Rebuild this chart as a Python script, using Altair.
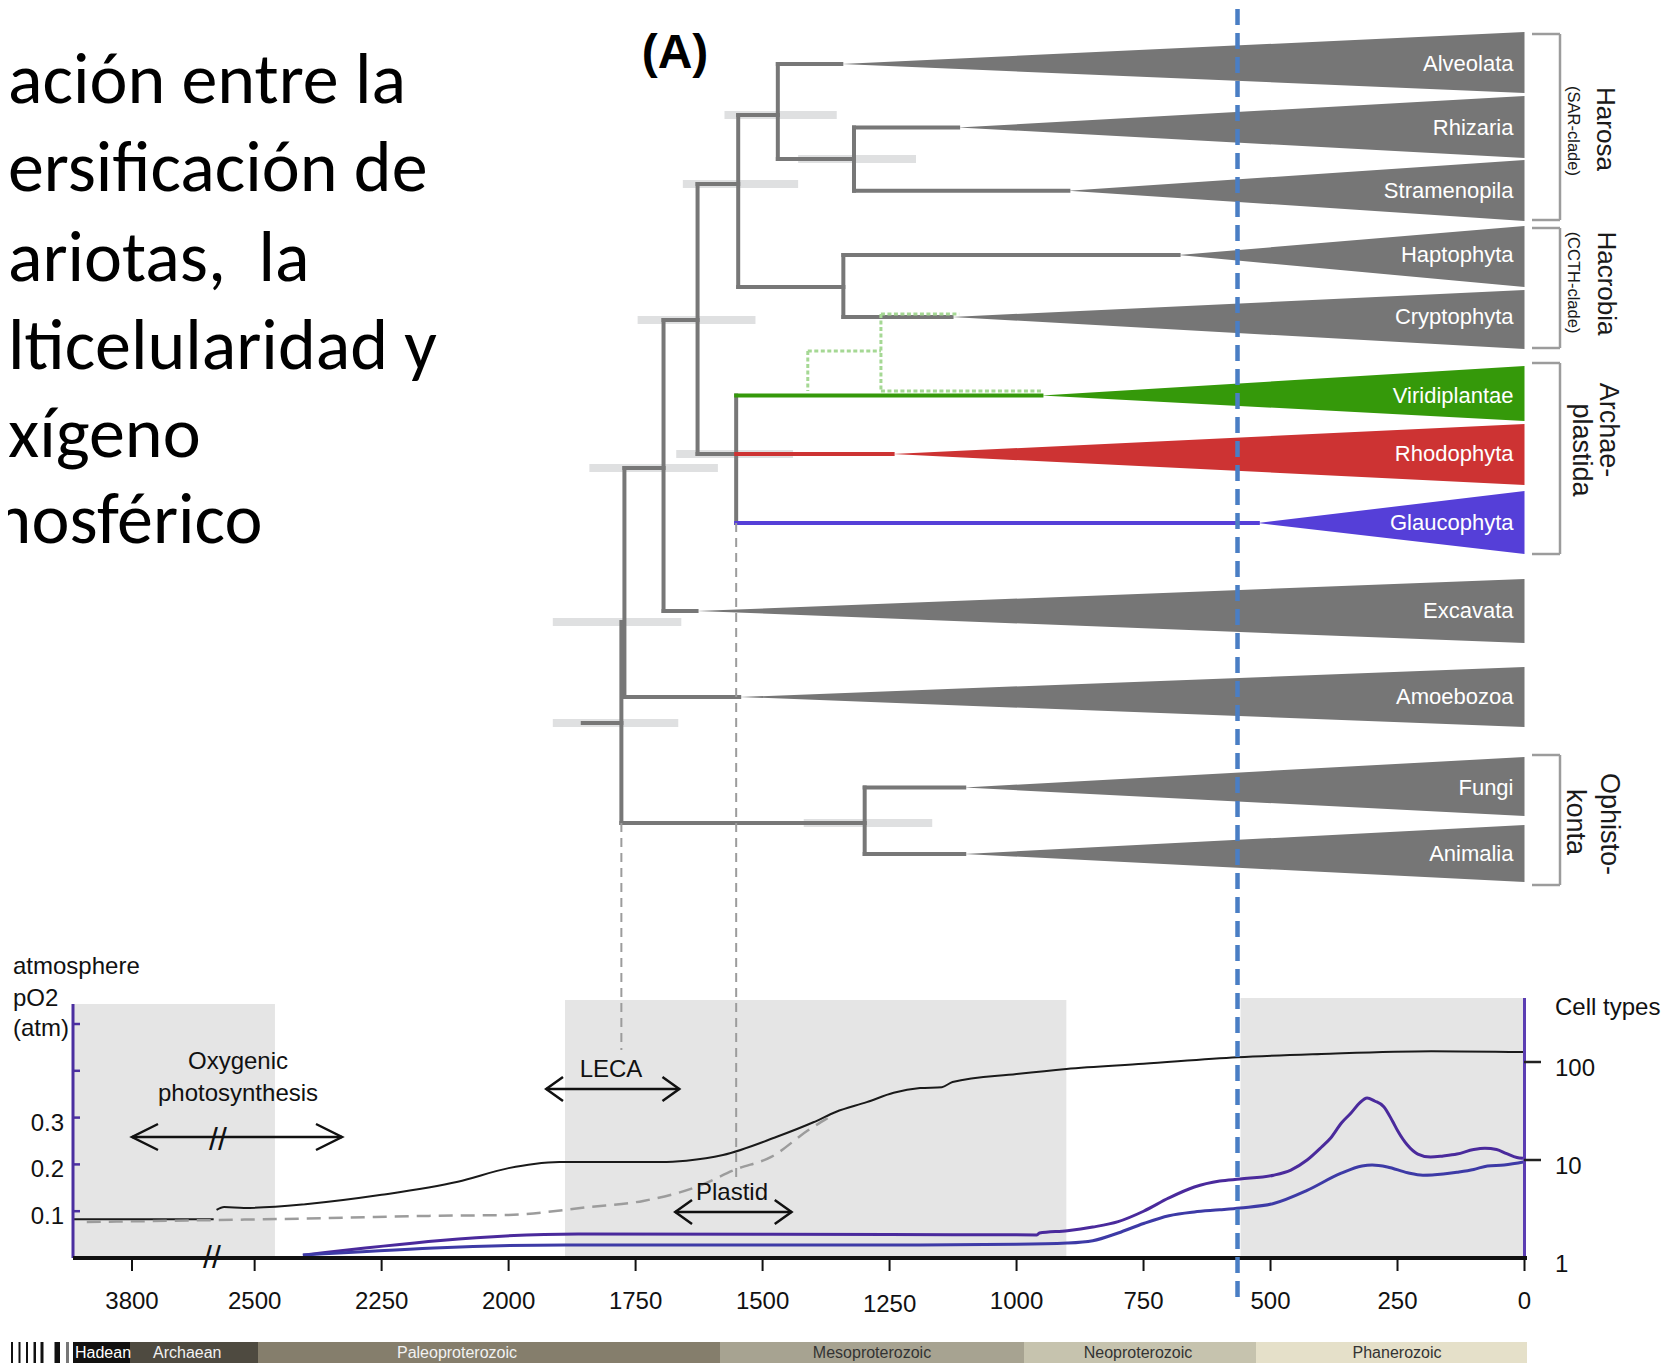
import altair as alt
import pandas as pd

# ---------------- canvas ----------------
W, H = 1664, 1355

# ---------------- data ----------------
# time axis: piecewise (Ma), left part compressed before the break
time_domain = [4100, 3800, 2580, 0]
time_range_px = [65, 124, 206, 1516.5]

# clades (tips of the tree)
clades = ["Alveolata", "Rhizaria", "Stramenopila", "Haptophyta", "Cryptophyta",
          "Viridiplantae", "Rhodophyta", "Glaucophyta", "Excavata", "Amoebozoa",
          "Fungi", "Animalia"]
tip_row = [64, 127.5, 190.7, 255, 317, 395.5, 454, 523, 611, 697, 787.5, 854]
crown_age = [1345, 1115, 898, 681, 1128, 951, 1244, 525, 1630, 1546, 1103, 1103]
fan_top = [32, 96, 160, 226, 290, 366, 424, 491, 579, 667, 757, 825]
fan_bottom = [93, 158, 221, 287, 349, 421, 485, 554, 643, 727, 816, 882]
clade_color = ["#767676"] * 5 + ["#35990a", "#cd3333", "#553fd8"] + ["#767676"] * 4

# tree branches (age from, age to, row from, row to, colour)
br_a1 = [1470, 1470, 1470, 1320, 1320, 1320, 1548, 1548, 1548, 1341, 1341, 1341,
         1628, 1628, 1628, 1552, 1552, 1552, 1552, 1695, 1695, 1695, 1772, 1772,
         1772, 1778, 1778, 1854, 1299, 1299, 1299]
br_a2 = [1470, 1345, 1320, 1320, 1115, 898, 1548, 1470, 1341, 1341, 681, 1128,
         1628, 1548, 1552, 1552, 951, 1244, 525, 1695, 1628, 1630, 1772, 1695,
         1546, 1778, 1299, 1778, 1299, 1103, 1103]
br_r1 = [64, 64, 159, 127.5, 127.5, 190.7, 115, 115, 287, 255, 255, 317,
         184, 184, 454, 395.5, 395.5, 454, 523, 320, 320, 611, 468, 468,
         697, 622, 823, 723, 787.5, 787.5, 854]
br_r2 = [159, 64, 159, 190.7, 127.5, 190.7, 287, 115, 287, 317, 255, 317,
         454, 184, 454, 523, 395.5, 454, 523, 611, 320, 611, 697, 468,
         697, 823, 823, 723, 854, 787.5, 854]
br_col = ["#777777"] * 16 + ["#35990a", "#cd3333", "#553fd8"] + ["#777777"] * 12

# divergence-time uncertainty bars
err_a1 = [1575, 1430, 1657, 1746, 1670, 1841, 1913, 1913, 1419]
err_a2 = [1354, 1198, 1430, 1514, 1440, 1588, 1660, 1666, 1166]
err_row = [115, 159, 184, 320, 454, 468, 622, 723, 823]

# plastid transfer (green dotted)
gr_a1 = [1267, 1267, 1411, 1411, 1267]
gr_a2 = [1113, 1267, 1267, 1411, 951]
gr_r1 = [314, 314, 351, 351, 391]
gr_r2 = [314, 391, 351, 391, 391]

# grey dashed guide lines (LECA, plastid)
guide_age = [1778, 1552]
guide_r1 = [823, 523]
guide_r2 = [1050, 1183]

# Cambrian line
cambrian_age = 565

# atmospheric pO2 (black solid, two pieces either side of the break)
o2a_age = [4100, 2585]
o2a_val = [0.083, 0.083]
o2b_age = [2575, 2560, 2521, 2400, 2250, 2100, 2000, 1950, 1900, 1800, 1700,
           1650, 1578, 1472, 1400, 1356, 1295, 1242, 1190, 1147, 1126, 1000,
           902, 750, 565, 400, 183, 0]
o2b_val = [0.103, 0.109, 0.107, 0.115, 0.135, 0.163, 0.192, 0.201, 0.205,
           0.205, 0.205, 0.208, 0.22, 0.259, 0.29, 0.312, 0.333, 0.353, 0.363,
           0.365, 0.376, 0.393, 0.404, 0.415, 0.429, 0.436, 0.442, 0.44]
# alternative pO2 model (grey dashed)
o2c_age = [4030, 2580, 2369, 2157, 2000, 1841, 1735, 1630, 1551, 1483, 1409, 1372]
o2c_val = [0.077, 0.081, 0.085, 0.09, 0.092, 0.109, 0.122, 0.152, 0.19, 0.216,
           0.274, 0.299]

# cell types (log scale)
cu_age = [2405, 1863, 1250, 960, 955, 900, 850, 800, 750, 700, 650, 600, 560,
          494, 460, 428, 400, 382, 360, 342, 325, 310, 295, 277, 260, 250, 231,
          210, 185, 160, 133, 100, 78, 55, 35, 15, 3]
cu_val = [1.07, 1.76, 1.74, 1.72, 1.8, 1.9, 2.07, 2.35, 3.0, 4.1, 5.3, 6.1, 6.4,
          7.0, 7.9, 10, 13.5, 16.7, 24, 30, 38, 43, 40, 35, 25, 20, 14.3, 11.5,
          10.7, 11, 11.5, 12.8, 13.2, 12.8, 11.6, 10.6, 10.4]
cl_age = [2405, 1889, 1250, 1000, 900, 850, 800, 750, 700, 650, 600, 560, 494,
          428, 362, 320, 300, 270, 230, 200, 160, 133, 100, 73, 40, 0]
cl_val = [1.07, 1.36, 1.36, 1.38, 1.42, 1.5, 1.8, 2.25, 2.7, 2.95, 3.1, 3.24,
          3.6, 4.9, 7.3, 8.7, 8.9, 8.5, 7.4, 7.0, 7.2, 7.5, 8.0, 8.7, 8.9, 9.6]

# shaded intervals
shade_a1 = [4100, 1889, 559]
shade_a2 = [2460, 902, 0]
shade_top = [1004, 1000, 998]

# x axis
x_ticks = [3800, 2500, 2250, 2000, 1750, 1500, 1250, 1000, 750, 500, 250, 0]
x_labels = ["3800", "2500", "2250", "2000", "1750", "1500", "1250", "1000",
            "750", "500", "250", "0"]
o2_ticks = [0.1, 0.2, 0.3, 0.4, 0.5]
o2_labels = ["0.1", "0.2", "0.3", "", ""]
cell_ticks = [100, 10]
cell_label_vals = [100, 10, 1]
cell_labels = ["100", "10", "1"]

# geological eras
era_names = ["Hadean", "Archaean", "Paleoproterozoic", "Mesoproterozoic",
             "Neoproterozoic", "Phanerozoic"]
era_x1 = [73, 130, 258, 720, 1024, 1256]
era_x2 = [130, 258, 720, 1024, 1256, 1527]
era_fill = ["#121110", "#4e4a40", "#857e6c", "#a7a391", "#c6c3ae", "#e5e0c9"]
era_label_x = [75, 153, 457, 872, 1138, 1397]
era_label_align = ["left", "left", "center", "center", "center", "center"]
era_label_col = ["#ffffff", "#f2f2f2", "#f2f2f2", "#333333", "#333333", "#333333"]
stripe_x1 = [11, 18.5, 26, 33.5, 40.5, 54.5, 66]
stripe_x2 = [13, 20.5, 28, 36, 43.5, 60, 69]
stripe_col = ["#111111"] * 6 + ["#777777"]
era_top, era_bottom, era_label_y = 1342, 1363, 1353

# arrows (age from, age to, row)
arr_a1 = [3800, 1926, 1672]
arr_a2 = [2328, 1664, 1443]
arr_row = [1137, 1089, 1212]
arr_size = [676, 576, 576]

# title text
title_lines = ["ación entre la", "ersificación de", "ariotas,\u00a0 la",
               "lticelularidad y", "xígeno", "atmosférico"]
title_x = [8, 8, 8, 8, 8, -84]
title_base = [103, 191, 281, 369, 457, 543]

# group brackets
grp_top = [34, 228, 363, 755]
grp_bot = [220, 348, 554, 885]
grp_text = ["Harosa", "(SAR-clade)", "Hacrobia", "(CCTH-clade)", "Archae-",
            "plastida", "Ophisto-", "konta"]
grp_tx = [1605, 1573, 1606, 1573, 1608, 1581, 1609, 1575]
grp_ty = [129, 131, 283.5, 282.5, 430, 450, 824, 822]
grp_size = [26, 16.5, 26, 16.5, 27, 27, 27, 27]

# free annotations (canvas)
ann_text = ["atmosphere", "pO2", "(atm)", "Cell types"]
ann_x = [13, 13, 13, 1555]
ann_y = [967, 999, 1029, 1008]

FONT = "Liberation Sans"

# ---------------- scales ----------------
TIME = alt.Scale(domain=time_domain, range=time_range_px, nice=False, zero=False)
CX = alt.Scale(domain=[8, 8 + W], range=[0, W], nice=False, zero=False)
CY = alt.Scale(domain=[8, 8 + H], range=[0, H], nice=False, zero=False)
PO2 = alt.Scale(domain=[0, 0.5], range=[1250, 1016], nice=False, zero=False)
CELLS = alt.Scale(type="log", domain=[1, 100], range=[1250, 1054], nice=False)


def xt(f):
    return alt.X(f"{f}:Q", scale=TIME, axis=None)


def xc(f):
    return alt.X(f"{f}:Q", scale=CX, axis=None)


def yc(f):
    return alt.Y(f"{f}:Q", scale=CY, axis=None)


def col(f):
    return alt.Color(f"{f}:N", scale=None, legend=None)


layers = []

# shaded intervals
shade = pd.DataFrame({"a1": shade_a1, "a2": shade_a2, "top": shade_top,
                      "bot": [1258] * 3})
layers.append(alt.Chart(shade).mark_rect(color="#e5e5e5").encode(
    x=xt("a1"), x2="a2", y=yc("top"), y2="bot"))

# era bar
stripes = pd.DataFrame({"x1": stripe_x1, "x2": stripe_x2, "c": stripe_col,
                        "t": [era_top] * 7, "b": [era_bottom] * 7})
layers.append(alt.Chart(stripes).mark_rect().encode(
    x=xc("x1"), x2="x2", y=yc("t"), y2="b", color=col("c")))
eras = pd.DataFrame({"name": era_names, "x1": era_x1, "x2": era_x2, "c": era_fill,
                     "t": [era_top] * 6, "b": [era_bottom] * 6})
layers.append(alt.Chart(eras).mark_rect().encode(
    x=xc("x1"), x2="x2", y=yc("t"), y2="b", color=col("c")))
for al in ["left", "center"]:
    d = pd.DataFrame({"name": era_names, "x": era_label_x, "al": era_label_align,
                      "c": era_label_col, "y": [era_label_y] * 6})
    d = d[d["al"] == al]
    layers.append(alt.Chart(d).mark_text(align=al, baseline="middle", fontSize=16,
                                         font=FONT).encode(
        x=xc("x"), y=yc("y"), text="name:N", color=col("c")))

# uncertainty bars
err = pd.DataFrame({"a1": err_a1, "a2": err_a2, "r": err_row})
layers.append(alt.Chart(err).mark_rule(strokeWidth=8, color="#dfe0e1").encode(
    x=xt("a1"), x2="a2", y=yc("r")))

# clade fans
rows = []
for n, tr, ca, ft, fb, c in zip(clades, tip_row, crown_age, fan_top, fan_bottom,
                                clade_color):
    rows.append({"clade": n, "ma": ca, "lo": tr, "hi": tr, "c": c})
    rows.append({"clade": n, "ma": 0, "lo": ft, "hi": fb, "c": c})
fans = pd.DataFrame(rows)
layers.append(alt.Chart(fans).mark_area(orient="vertical").encode(
    x=xt("ma"), y=yc("lo"), y2="hi", detail="clade:N", color=col("c")))

# branches
br = pd.DataFrame({"a1": br_a1, "a2": br_a2, "r1": br_r1, "r2": br_r2, "c": br_col})
layers.append(alt.Chart(br).mark_rule(strokeWidth=4, strokeCap="square").encode(
    x=xt("a1"), x2="a2", y=yc("r1"), y2="r2", color=col("c")))

# green dotted
gr = pd.DataFrame({"a1": gr_a1, "a2": gr_a2, "r1": gr_r1, "r2": gr_r2})
layers.append(alt.Chart(gr).mark_rule(strokeWidth=3, color="#a5d894",
                                      strokeDash=[4, 2.5]).encode(
    x=xt("a1"), x2="a2", y=yc("r1"), y2="r2"))

# grey dashed guides
gd = pd.DataFrame({"a": guide_age, "r1": guide_r1, "r2": guide_r2})
layers.append(alt.Chart(gd).mark_rule(strokeWidth=2, color="#9c9c9c",
                                      strokeDash=[9, 6]).encode(
    x=xt("a"), y=yc("r1"), y2="r2"))

# pO2 curves
o2 = pd.DataFrame({"ma": o2a_age + o2b_age, "v": o2a_val + o2b_val,
                   "seg": ["a"] * len(o2a_age) + ["b"] * len(o2b_age)})
layers.append(alt.Chart(o2).mark_line(color="#1a1a1a", strokeWidth=2,
                                      interpolate="monotone").encode(
    x=xt("ma"), y=alt.Y("v:Q", scale=PO2, axis=None), detail="seg:N",
    order=alt.Order("ma:Q", sort="descending")))
o2c = pd.DataFrame({"ma": o2c_age, "v": o2c_val})
layers.append(alt.Chart(o2c).mark_line(color="#9c9c9c", strokeWidth=2.5,
                                       strokeDash=[14, 8],
                                       interpolate="monotone").encode(
    x=xt("ma"), y=alt.Y("v:Q", scale=PO2, axis=None),
    order=alt.Order("ma:Q", sort="descending")))

# cell types curves
cells = pd.DataFrame({"ma": cu_age + cl_age, "v": cu_val + cl_val,
                      "s": ["u"] * len(cu_age) + ["l"] * len(cl_age),
                      "c": ["#4a2a9c"] * len(cu_age) + ["#3d3aa6"] * len(cl_age)})
layers.append(alt.Chart(cells).mark_line(strokeWidth=3, interpolate="monotone").encode(
    x=xt("ma"), y=alt.Y("v:Q", scale=CELLS, axis=None), detail="s:N",
    color=col("c"), order=alt.Order("ma:Q", sort="descending")))

# axes: left pO2 axis
layers.append(alt.Chart(pd.DataFrame({"x": [73], "t": [1004], "b": [1258]})).mark_rule(
    strokeWidth=3, color="#4b2fa0").encode(x=xc("x"), y=yc("t"), y2="b"))
o2t = pd.DataFrame({"v": o2_ticks, "lab": o2_labels, "x1": [73] * 5, "x2": [80] * 5,
                    "lx": [64] * 5})
layers.append(alt.Chart(o2t).mark_rule(strokeWidth=2.5, color="#4b2fa0").encode(
    x=xc("x1"), x2="x2", y=alt.Y("v:Q", scale=PO2, axis=None)))
layers.append(alt.Chart(o2t).mark_text(align="right", baseline="middle", dy=6,
                                       fontSize=24, font=FONT, color="#111").encode(
    x=xc("lx"), y=alt.Y("v:Q", scale=PO2, axis=None), text="lab:N"))

# right cell-types axis
layers.append(alt.Chart(pd.DataFrame({"a": [0], "t": [998], "b": [1258]})).mark_rule(
    strokeWidth=3, color="#5b3db3").encode(x=xt("a"), y=yc("t"), y2="b"))
ct = pd.DataFrame({"v": cell_ticks, "x1": [1524] * 2, "x2": [1541] * 2})
layers.append(alt.Chart(ct).mark_rule(strokeWidth=2.5, color="#222").encode(
    x=xc("x1"), x2="x2", y=alt.Y("v:Q", scale=CELLS, axis=None)))
cl = pd.DataFrame({"v": cell_label_vals, "lab": cell_labels, "x": [1555] * 3})
layers.append(alt.Chart(cl).mark_text(align="left", baseline="middle", dy=7,
                                      fontSize=24, font=FONT, color="#111").encode(
    x=xc("x"), y=alt.Y("v:Q", scale=CELLS, axis=None), text="lab:N"))

# bottom time axis
layers.append(alt.Chart(pd.DataFrame({"x1": [73], "x2": [1527], "y": [1258]})).mark_rule(
    strokeWidth=4, color="#111").encode(x=xc("x1"), x2="x2", y=yc("y")))
xtk = pd.DataFrame({"ma": x_ticks, "lab": x_labels, "t": [1258] * 12,
                    "b": [1271] * 12,
                    "ly": [1302, 1302, 1302, 1302, 1302, 1302, 1305, 1302, 1302,
                           1302, 1302, 1302]})
layers.append(alt.Chart(xtk).mark_rule(strokeWidth=2, color="#111").encode(
    x=xt("ma"), y=yc("t"), y2="b"))
layers.append(alt.Chart(xtk).mark_text(align="center", baseline="middle", fontSize=24,
                                       font=FONT, color="#111").encode(
    x=xt("ma"), y=yc("ly"), text="lab:N"))

# break marks
brk = pd.DataFrame({"x": [212, 218], "y": [1258, 1140], "t": ["//", "//"]})
layers.append(alt.Chart(brk).mark_text(align="center", baseline="middle", fontSize=32,
                                       font=FONT, color="#111").encode(
    x=xc("x"), y=yc("y"), text="t:N"))

# arrows
arr = pd.DataFrame({"a1": arr_a1, "a2": arr_a2, "r": arr_row})
layers.append(alt.Chart(arr).mark_rule(strokeWidth=2.5, color="#111").encode(
    x=xt("a1"), x2="a2", y=yc("r")))
heads = pd.DataFrame({
    "ma": arr_a1 + arr_a2, "r": arr_row + arr_row,
    "shape": ["M 2 -1 L 0 0 L 2 1"] + ["M 1.4 -1 L 0 0 L 1.4 1"] * 2
             + ["M -2 -1 L 0 0 L -2 1"] + ["M -1.4 -1 L 0 0 L -1.4 1"] * 2,
    "sz": arr_size + arr_size})
layers.append(alt.Chart(heads).mark_point(filled=False, color="#111", strokeWidth=2.5,
                                          opacity=1).encode(
    x=xt("ma"), y=yc("r"), shape=alt.Shape("shape:N", scale=None, legend=None),
    size=alt.Size("sz:Q", scale=None, legend=None)))

# arrow / graph annotations
notes = pd.DataFrame({"t": ["Oxygenic", "photosynthesis", "LECA", "Plastid"],
                      "x": [238, 238, 611, 732], "y": [1062, 1094, 1070, 1193]})
layers.append(alt.Chart(notes).mark_text(align="center", baseline="middle",
                                         fontSize=24, font=FONT, color="#111").encode(
    x=xc("x"), y=yc("y"), text="t:N"))
ann = pd.DataFrame({"t": ann_text, "x": ann_x, "y": ann_y})
layers.append(alt.Chart(ann).mark_text(align="left", baseline="middle", fontSize=24,
                                       font=FONT, color="#111").encode(
    x=xc("x"), y=yc("y"), text="t:N"))

# clade labels
tips = pd.DataFrame({"clade": clades, "row": tip_row, "zero": [0] * len(clades)})
layers.append(alt.Chart(tips).mark_text(align="right", baseline="middle", dx=-11,
                                        fontSize=22, font=FONT, color="white").encode(
    x=xt("zero"), y=yc("row"), text="clade:N"))

# brackets
brows = []
for t, b in zip(grp_top, grp_bot):
    brows += [{"x1": 1532, "x2": 1560, "y1": t, "y2": t},
              {"x1": 1560, "x2": 1560, "y1": t, "y2": b},
              {"x1": 1532, "x2": 1560, "y1": b, "y2": b}]
layers.append(alt.Chart(pd.DataFrame(brows)).mark_rule(strokeWidth=2.5,
                                                       color="#9c9c9c").encode(
    x=xc("x1"), x2="x2", y=yc("y1"), y2="y2"))
grp = pd.DataFrame({"t": grp_text, "x": grp_tx, "y": grp_ty, "s": grp_size})
layers.append(alt.Chart(grp).mark_text(align="center", baseline="middle", angle=90,
                                       font=FONT, color="#1a1a1a").encode(
    x=xc("x"), y=yc("y"), text="t:N",
    size=alt.Size("s:Q", scale=None, legend=None)))

# big title text (cut at the left)
title = pd.DataFrame({"t": title_lines, "x": title_x, "y": title_base})
layers.append(alt.Chart(title).mark_text(align="left", baseline="alphabetic",
                                         fontSize=72, font="Carlito, Lato, sans-serif",
                                         color="#000", clip=True).encode(
    x=xc("x"), y=yc("y"), text="t:N"))
layers.append(alt.Chart(pd.DataFrame({"t": ["(A)"], "x": [675], "y": [68]})).mark_text(
    align="center", baseline="alphabetic", fontSize=48, fontWeight="bold", font=FONT,
    color="#000").encode(x=xc("x"), y=yc("y"), text="t:N"))

# Cambrian line
layers.append(alt.Chart(pd.DataFrame({"a": [cambrian_age], "t": [9], "b": [1297]})).mark_rule(
    strokeWidth=4.5, color="#4a7ec4", strokeDash=[16, 8]).encode(
    x=xt("a"), y=yc("t"), y2="b"))

chart = alt.layer(*layers).resolve_scale(
    x="independent", y="independent", color="independent", size="independent",
    shape="independent"
).properties(
    width=W, height=H, autosize=alt.AutoSizeParams(type="none"), padding=0
).configure_view(stroke=None)

chart.save("out.html", embed_options={"renderer": "svg", "actions": False})
